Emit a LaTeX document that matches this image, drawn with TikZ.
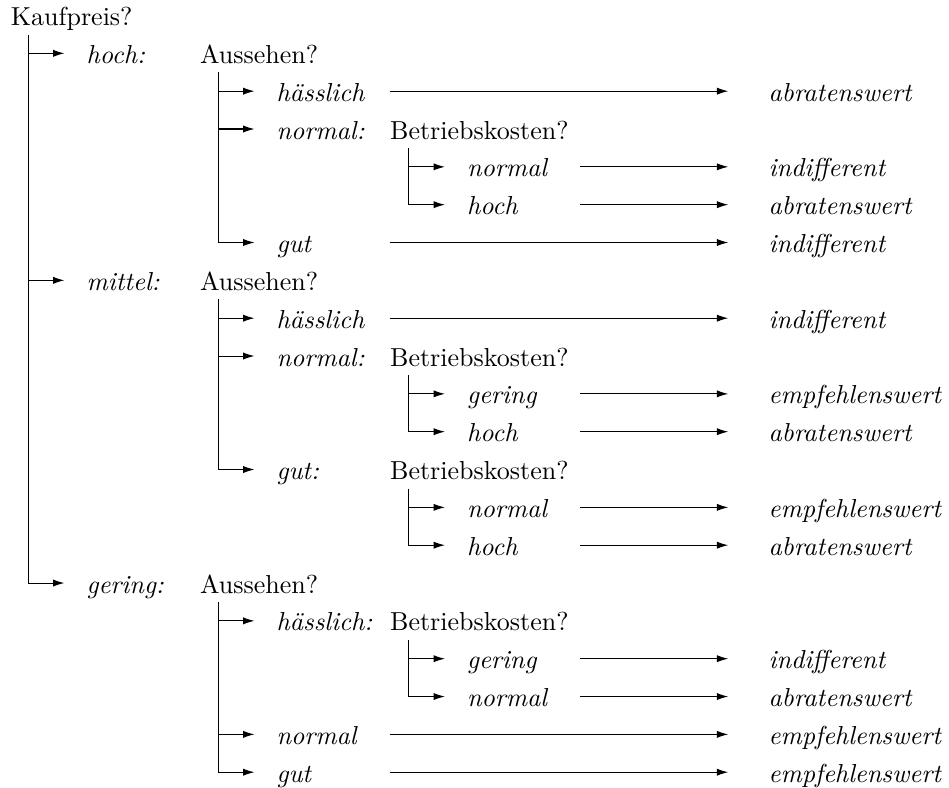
\documentclass[tikz,border=0pt]{standalone}
\usepackage{tikz}
\usepackage{amsmath,amssymb}
\usetikzlibrary{arrows.meta,positioning}

\begin{document}
\begin{tikzpicture}[x=1cm, y=-0.5115cm]
                \tikzstyle{txt}=[anchor=west, inner xsep=0pt, inner ysep=2.5pt, text height=8.5pt, text depth=0.8pt]
                \tikzstyle{lab}=[txt, font=\itshape, text width=43.3pt]
                \tikzstyle{res}=[txt, font=\itshape]
                \tikzstyle{branch}=[-{Latex[length=4.4pt,width=2.8pt]}, shorten >=8.3pt]
                \tikzstyle{resarr}=[-{Latex[length=4.4pt,width=2.8pt]}, shorten >=15.3pt]

                \useasboundingbox (0,-0.4097) rectangle (12.83,20.394);

                \node[txt] (kp) at (0.141,0) {Kaufpreis?};
                \coordinate (v0) at ([xshift=0.25cm]kp.south west);

                % hoch
                \node[lab] (h) at (1.163,1) {hoch:};
                \node[txt, right=0pt of h] (hq) {Aussehen?};
                \coordinate (vh) at ([xshift=0.25cm]hq.south west);
                \node[lab] (hh) at (3.732,2) {hässlich};
                \node[lab] (hn) at (3.732,3) {normal:};
                \node[txt, right=0pt of hn] (hnq) {Betriebskosten?};
                \coordinate (vhn) at ([xshift=0.25cm]hnq.south west);
                \node[lab] (hnn) at (6.307,4) {normal};
                \node[lab] (hnh) at (6.307,5) {hoch};
                \node[lab] (hg) at (3.732,6) {gut};

                \node[res] (rhh) at (10.383,2) {abratenswert};
                \node[res] (rhnn) at (10.383,4) {indifferent};
                \node[res] (rhnh) at (10.383,5) {abratenswert};
                \node[res] (rhg) at (10.383,6) {indifferent};

                % mittel
                \node[lab] (m) at (1.163,7) {mittel:};
                \node[txt, right=0pt of m] (mq) {Aussehen?};
                \coordinate (vm) at ([xshift=0.25cm]mq.south west);
                \node[lab] (mh) at (3.732,8) {hässlich};
                \node[lab] (mn) at (3.732,9) {normal:};
                \node[txt, right=0pt of mn] (mnq) {Betriebskosten?};
                \coordinate (vmn) at ([xshift=0.25cm]mnq.south west);
                \node[lab] (mng) at (6.307,10) {gering};
                \node[lab] (mnh) at (6.307,11) {hoch};
                \node[lab] (mg) at (3.732,12) {gut:};
                \node[txt, right=0pt of mg] (mgq) {Betriebskosten?};
                \coordinate (vmg) at ([xshift=0.25cm]mgq.south west);
                \node[lab] (mgn) at (6.307,13) {normal};
                \node[lab] (mgh) at (6.307,14) {hoch};

                \node[res] (rmh) at (10.383,8) {indifferent};
                \node[res] (rmng) at (10.383,10) {empfehlenswert};
                \node[res] (rmnh) at (10.383,11) {abratenswert};
                \node[res] (rmgn) at (10.383,13) {empfehlenswert};
                \node[res] (rmgh) at (10.383,14) {abratenswert};

                % gering
                \node[lab] (g) at (1.163,15) {gering:};
                \node[txt, right=0pt of g] (gq) {Aussehen?};
                \coordinate (vg) at ([xshift=0.25cm]gq.south west);
                \node[lab] (gh) at (3.732,16) {hässlich:};
                \node[txt, right=0pt of gh] (ghq) {Betriebskosten?};
                \coordinate (vgh) at ([xshift=0.25cm]ghq.south west);
                \node[lab] (ghg) at (6.307,17) {gering};
                \node[lab] (ghn) at (6.307,18) {normal};
                \node[lab] (gn) at (3.732,19) {normal};
                \node[lab] (gg) at (3.732,20) {gut};

                \node[res] (rghg) at (10.383,17) {indifferent};
                \node[res] (rghn) at (10.383,18) {abratenswert};
                \node[res] (rgn) at (10.383,19) {empfehlenswert};
                \node[res] (rgg) at (10.383,20) {empfehlenswert};

                % branches
                \draw[branch] (v0 |- h.west) -- (h.west);
                \draw[branch] (v0 |- m.west) -- (m.west);
                \draw[branch] (v0) |- (g.west);

                \draw[branch] (vh |- hh.west) -- (hh.west);
                \draw[branch] (vh |- hn.west) -- (hn.west);
                \draw[branch] (vh) |- (hg.west);
                \draw[branch] (vhn |- hnn.west) -- (hnn.west);
                \draw[branch] (vhn) |- (hnh.west);

                \draw[branch] (vm |- mh.west) -- (mh.west);
                \draw[branch] (vm |- mn.west) -- (mn.west);
                \draw[branch] (vm) |- (mg.west);
                \draw[branch] (vmn |- mng.west) -- (mng.west);
                \draw[branch] (vmn) |- (mnh.west);
                \draw[branch] (vmg |- mgn.west) -- (mgn.west);
                \draw[branch] (vmg) |- (mgh.west);

                \draw[branch] (vg |- gh.west) -- (gh.west);
                \draw[branch] (vg |- gn.west) -- (gn.west);
                \draw[branch] (vg) |- (gg.west);
                \draw[branch] (vgh |- ghg.west) -- (ghg.west);
                \draw[branch] (vgh) |- (ghn.west);

                % results
                \draw[resarr] (hh.east) -- (rhh.west);
                \draw[resarr] (hnn.east) -- (rhnn.west);
                \draw[resarr] (hnh.east) -- (rhnh.west);
                \draw[resarr] (hg.east) -- (rhg.west);
                \draw[resarr] (mh.east) -- (rmh.west);
                \draw[resarr] (mng.east) -- (rmng.west);
                \draw[resarr] (mnh.east) -- (rmnh.west);
                \draw[resarr] (mgn.east) -- (rmgn.west);
                \draw[resarr] (mgh.east) -- (rmgh.west);
                \draw[resarr] (ghg.east) -- (rghg.west);
                \draw[resarr] (ghn.east) -- (rghn.west);
                \draw[resarr] (gn.east) -- (rgn.west);
                \draw[resarr] (gg.east) -- (rgg.west);
            \end{tikzpicture}
\end{document}
